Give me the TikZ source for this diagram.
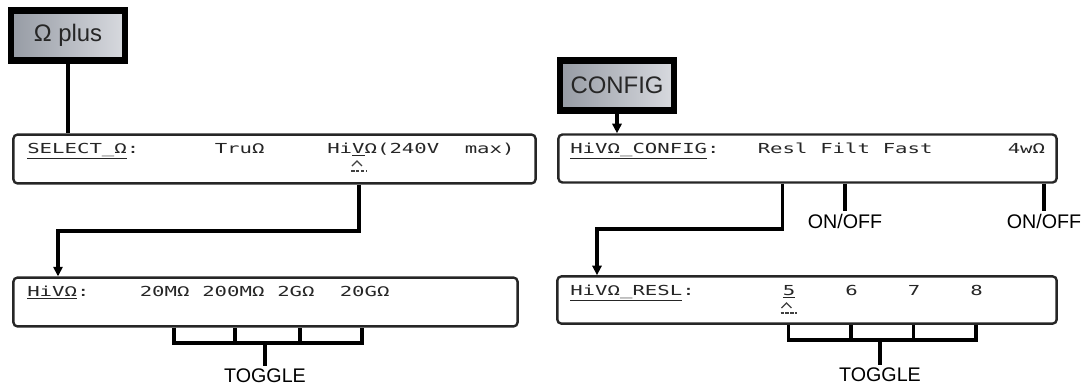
\documentclass[tikz,border=0pt]{standalone}
\usepackage{fontspec}
\setmainfont{Liberation Sans}
\newfontfamily\lcdfont[FakeStretch=1.5]{DejaVu Sans Mono}
\usetikzlibrary{arrows.meta}
\definecolor{teclaosc}{RGB}{150,155,164}
\definecolor{teclaclara}{RGB}{216,218,223}
\begin{document}
\begin{tikzpicture}[x=0.025cm, y=-0.025cm,
  linea/.style={line width=2.5pt},
  flecha/.style={line width=2.5pt, -{Triangle[length=2.4mm,width=2.3mm]}},
  tecla/.style={draw=black, line width=4.5pt, left color=teclaosc, right color=teclaclara,
    minimum width=2.85cm, minimum height=1.25cm, text=black!85, font=\fontsize{17}{20}\selectfont},
  pantalla/.style={draw=black!85, line width=1.7pt, rounded corners=1mm, inner sep=0pt},
  lcd/.style={anchor=base west, inner sep=0pt, text=black!85, font=\lcdfont\fontsize{9.8}{10}\selectfont},
  cursor/.style={line width=0.9pt, black!75},
  rotulo/.style={inner sep=2pt, font=\fontsize{14}{16}\selectfont}]
  \useasboundingbox (0,0) rectangle (1084,390);
  % las teclas
  \node[tecla] (plus) at (68,35.5) {Ω plus};
  \node[tecla] (cfg) at (617,85.5) {CONFIG};
  % las pantallas
  \node[pantalla, minimum width=13.05cm, minimum height=1.22cm] (d1) at (274.5,159) {};
  \node[pantalla, minimum width=12.6cm, minimum height=1.22cm] (d2) at (265.5,302) {};
  \node[pantalla, minimum width=12.45cm, minimum height=1.2cm] (d3) at (807.5,158.5) {};
  \node[pantalla, minimum width=12.48cm, minimum height=1.18cm] (d4) at (807,300) {};
  % textos de la pantalla SELECT
  \node[lcd] (sel) at (27,153) {\underline{SELECT\_Ω}:};
  \node[lcd] (tru) at (214.5,153) {TruΩ};
  \node[lcd] (hiv) at (327,153) {Hi\underline{V}Ω(240V};
  \node[lcd] (max) at (464.5,153) {max)};
  \coordinate (cur1) at (359,166);
  \draw[cursor] ([xshift=-5]cur1) -- ++(5,-5) -- ++(5,5);
  \draw[cursor, dash pattern=on 2.5pt off 1pt] ([shift={(-8,5)}]cur1) -- ++(16,0);
  % textos de la pantalla HiV
  \node[lcd] (hv2) at (27,296) {\underline{HiVΩ}:};
  \node[lcd] (r1) at (139.5,296) {20MΩ};
  \node[lcd] (r2) at (202,296) {200MΩ};
  \node[lcd] (r3) at (277,296) {2GΩ};
  \node[lcd] (r4) at (339.5,296) {20GΩ};
  % textos de la pantalla CONFIG
  \node[lcd] (hv3) at (570,153) {\underline{HiVΩ\_CONFIG}:};
  \node[lcd] (resl) at (757.5,153) {Resl};
  \node[lcd] (filt) at (820,153) {Filt};
  \node[lcd] (fast) at (882.5,153) {Fast};
  \node[lcd] (wire) at (1007.5,153) {4wΩ};
  % textos de la pantalla RESL
  \node[lcd] (hv4) at (570,295) {\underline{HiVΩ\_RESL}:};
  \node[lcd] (n5) at (782.5,295) {\underline{5}};
  \node[lcd] (n6) at (845,295) {6};
  \node[lcd] (n7) at (907.5,295) {7};
  \node[lcd] (n8) at (970,295) {8};
  \coordinate (cur2) at (788.5,308);
  \draw[cursor] ([xshift=-5]cur2) -- ++(5,-5) -- ++(5,5);
  \draw[cursor, dash pattern=on 2.5pt off 1pt] ([shift={(-8,5)}]cur2) -- ++(16,0);
  % conexiones
  \draw[linea] (plus.south) -- (plus.south |- d1.north);
  \coordinate (giro1) at (58,231);
  \draw[flecha] (cur1 |- d1.south) |- (giro1) -- (giro1 |- d2.north);
  \draw[flecha] (cfg.south) -- (cfg.south |- d3.north);
  \coordinate (giro2) at (597,229);
  \draw[flecha] (d3.south -| resl.south) |- (giro2) -- (giro2 |- d4.north);
  % ON/OFF
  \node[rotulo] (onoff1) at (845,221) {ON/OFF};
  \node[rotulo] (onoff2) at (1044,221) {ON/OFF};
  \draw[linea] (d3.south -| onoff1) -- (onoff1.north);
  \draw[linea] (d3.south -| onoff2) -- (onoff2.north);
  % TOGGLE izquierdo
  \node[rotulo] (tog1) at (265,376) {TOGGLE};
  \coordinate (ta) at (174,343); \coordinate (tb) at (362,343);
  \draw[linea] (ta |- d2.south) -- (ta) -- (tb) -- (tb |- d2.south);
  \foreach \x in {235,300} \draw[linea] (\x,343) -- (d2.south -| \x,343);
  \draw[linea] (tog1.north) -- (tog1.north |- ta);
  % TOGGLE derecho
  \node[rotulo] (tog2) at (880,375) {TOGGLE};
  \coordinate (tc) at (788.5,340); \coordinate (td) at (976,340);
  \draw[linea] (tc |- d4.south) -- (tc) -- (td) -- (td |- d4.south);
  \foreach \x in {851,913.5} \draw[linea] (\x,340) -- (d4.south -| \x,340);
  \draw[linea] (tog2.north) -- (tog2.north |- tc);
\end{tikzpicture}
\end{document}
